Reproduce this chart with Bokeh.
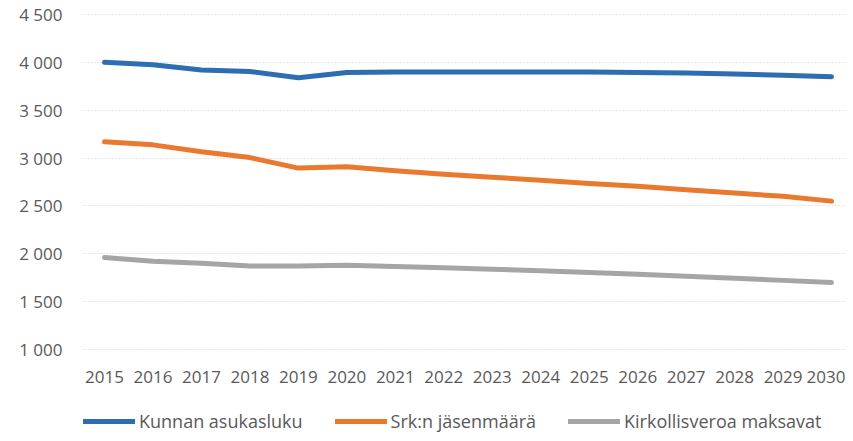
from bokeh.plotting import figure
from bokeh.models import Range1d, FixedTicker, Legend, LegendItem, LinearAxis
from bokeh.embed import file_html
from bokeh.resources import INLINE

years = [2015, 2016, 2017, 2018, 2019, 2020, 2021, 2022,
         2023, 2024, 2025, 2026, 2027, 2028, 2029, 2030]
kunnan_asukasluku = [4000, 3975, 3920, 3905, 3840, 3895, 3900, 3900,
                     3900, 3900, 3898, 3893, 3888, 3878, 3866, 3850]
srk_jasenmaara = [3170, 3138, 3065, 3005, 2895, 2910, 2868, 2832,
                  2800, 2768, 2735, 2705, 2670, 2635, 2600, 2550]
kirkollisveroa = [1960, 1922, 1900, 1872, 1872, 1880, 1868, 1855,
                  1838, 1822, 1805, 1785, 1765, 1745, 1722, 1700]
series_names = ["Kunnan asukasluku", "Srk:n jäsenmäärä", "Kirkollisveroa maksavat"]
y_ticks = [1000, 1500, 2000, 2500, 3000, 3500, 4000, 4500]
y_tick_labels = ["1 000", "1 500", "2 000", "2 500", "3 000", "3 500", "4 000", "4 500"]

colors = ["#2e6db4", "#e8792f", "#a5a5a5"]
FONT = "Open Sans"
TXT = "#595959"

p = figure(width=845, height=433, output_backend="svg", toolbar_location=None,
           x_range=Range1d(2014.546, 2030.288), y_range=Range1d(122, 4521),
           x_axis_location=None,
           min_border_left=82, min_border_right=0, min_border_top=12, min_border_bottom=0)
p.outline_line_color = None
p.background_fill_color = "white"
p.border_fill_color = "white"

renderers = []
for ys, c in zip([kunnan_asukasluku, srk_jasenmaara, kirkollisveroa], colors):
    r = p.line(years, ys, line_color=c, line_width=5, line_cap="round", line_join="round")
    renderers.append(r)

xaxis = LinearAxis(fixed_location=y_ticks[0], ticker=FixedTicker(ticks=years),
                   major_label_overrides={y: str(y) for y in years})
p.add_layout(xaxis, "below")

p.yaxis.ticker = FixedTicker(ticks=y_ticks)
p.yaxis.major_label_overrides = {t: l for t, l in zip(y_ticks, y_tick_labels)}
for ax in (xaxis, p.yaxis[0]):
    ax.axis_line_color = None
    ax.major_tick_line_color = None
    ax.minor_tick_line_color = None
    ax.major_label_text_font = FONT
    ax.major_label_text_font_size = "17px"
    ax.major_label_text_color = TXT
p.yaxis.major_label_standoff = 14
xaxis.major_label_standoff = 16

p.xgrid.grid_line_color = None
p.ygrid.grid_line_color = "#cfcfcf"
p.ygrid.grid_line_dash = "1 2"
p.ygrid.grid_line_width = 1

legend = Legend(items=[LegendItem(label=n, renderers=[r]) for n, r in zip(series_names, renderers)],
                orientation="horizontal", location=(1, 0),
                label_text_font=FONT, label_text_font_size="18px", label_text_color=TXT,
                glyph_width=52, glyph_height=20, label_standoff=4, spacing=32,
                border_line_color=None, background_fill_alpha=0,
                padding=0, margin=0)
p.add_layout(legend, "center")

open("out.html", "w").write(file_html(p, INLINE))
